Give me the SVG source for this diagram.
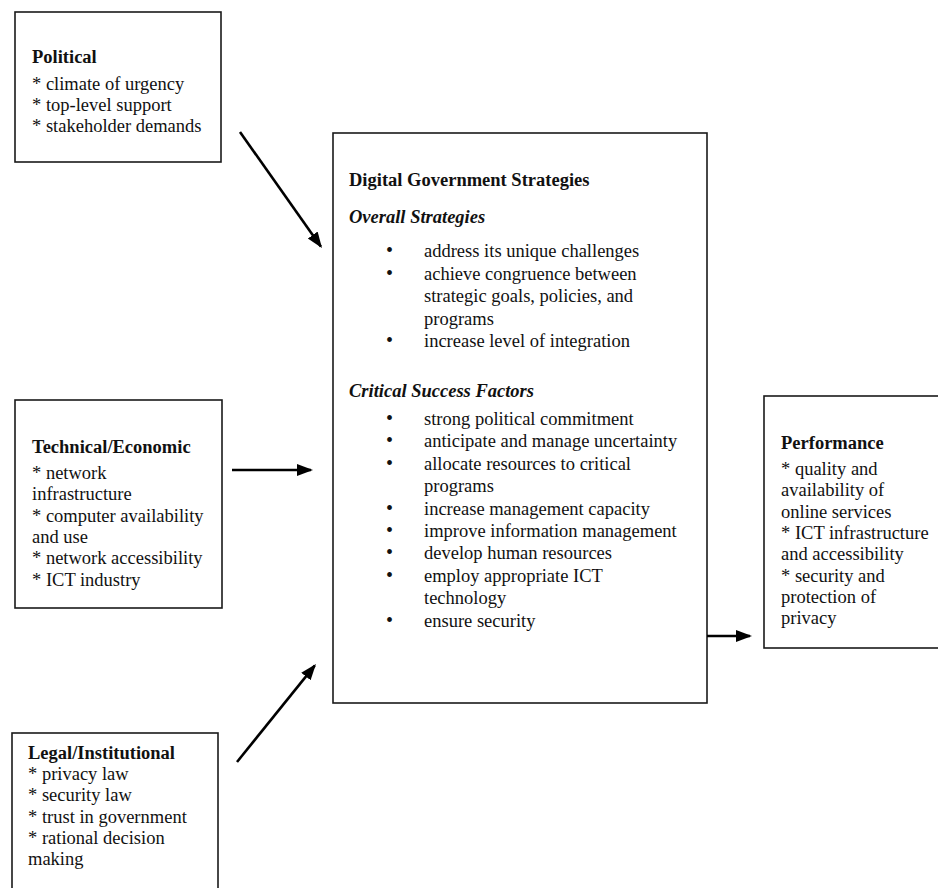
<svg xmlns="http://www.w3.org/2000/svg" width="938" height="888" viewBox="0 0 938 888">
<defs>
<style>
.box{fill:#fff;stroke:#1a1a1a;stroke-width:1.6}
.t{font-family:"Liberation Serif","Times New Roman",serif;font-size:18.5px;fill:#111}
.b{font-weight:bold}
.bi{font-weight:bold;font-style:italic}
.bul{font-size:20px}
.conn{stroke:#000;stroke-width:2.6;fill:none;marker-end:url(#ah)}
</style>
<marker id="ah" markerUnits="userSpaceOnUse" markerWidth="18" markerHeight="14" refX="14" refY="6" orient="auto">
<path d="M0,0 L16,6 L0,12 z" fill="#000"/>
</marker>
</defs>
<rect width="938" height="888" fill="#fff"/>

<g id="political">
<rect class="box" x="15" y="12" width="206" height="150"/>
<text class="t b" x="32" y="63">Political</text>
<text class="t" x="32" y="90">* climate of urgency</text>
<text class="t" x="32" y="111">* top-level support</text>
<text class="t" x="32" y="132">* stakeholder demands</text>
</g>

<g id="technical">
<rect class="box" x="15" y="400" width="207" height="208"/>
<text class="t b" x="32" y="453">Technical/Economic</text>
<text class="t" x="32" y="479">* network</text>
<text class="t" x="32" y="500.3">infrastructure</text>
<text class="t" x="32" y="521.6">* computer availability</text>
<text class="t" x="32" y="542.9">and use</text>
<text class="t" x="32" y="564.2">* network accessibility</text>
<text class="t" x="32" y="585.5">* ICT industry</text>
</g>

<g id="legal">
<rect class="box" x="12" y="733" width="206" height="160"/>
<text class="t b" x="28" y="759">Legal/Institutional</text>
<text class="t" x="28" y="780">* privacy law</text>
<text class="t" x="28" y="801.3">* security law</text>
<text class="t" x="28" y="822.6">* trust in government</text>
<text class="t" x="28" y="843.9">* rational decision</text>
<text class="t" x="28" y="865.2">making</text>
</g>

<g id="strategies">
<rect class="box" x="333" y="133" width="374" height="570"/>
<text class="t b" x="349" y="186">Digital Government Strategies</text>
<text class="t bi" x="349" y="223">Overall Strategies</text>
<g class="t">
<text class="bul" x="386" y="257">•</text><text x="424" y="257">address its unique challenges</text>
<text class="bul" x="386" y="279.5">•</text><text x="424" y="279.5">achieve congruence between</text>
<text x="424" y="302">strategic goals, policies, and</text>
<text x="424" y="324.5">programs</text>
<text class="bul" x="386" y="347">•</text><text x="424" y="347">increase level of integration</text>
</g>
<text class="t bi" x="349" y="397">Critical Success Factors</text>
<g class="t">
<text class="bul" x="386" y="425">•</text><text x="424" y="425">strong political commitment</text>
<text class="bul" x="386" y="447.4">•</text><text x="424" y="447.4">anticipate and manage uncertainty</text>
<text class="bul" x="386" y="469.8">•</text><text x="424" y="469.8">allocate resources to critical</text>
<text x="424" y="492.2">programs</text>
<text class="bul" x="386" y="514.6">•</text><text x="424" y="514.6">increase management capacity</text>
<text class="bul" x="386" y="537">•</text><text x="424" y="537">improve information management</text>
<text class="bul" x="386" y="559.4">•</text><text x="424" y="559.4">develop human resources</text>
<text class="bul" x="386" y="581.8">•</text><text x="424" y="581.8">employ appropriate ICT</text>
<text x="424" y="604.2">technology</text>
<text class="bul" x="386" y="626.6">•</text><text x="424" y="626.6">ensure security</text>
</g>
</g>

<g id="performance">
<rect class="box" x="764" y="396" width="180" height="252"/>
<text class="t b" x="781" y="449">Performance</text>
<text class="t" x="781" y="475">* quality and</text>
<text class="t" x="781" y="496.3">availability of</text>
<text class="t" x="781" y="517.6">online services</text>
<text class="t" x="781" y="538.9">* ICT infrastructure</text>
<text class="t" x="781" y="560.2">and accessibility</text>
<text class="t" x="781" y="581.5">* security and</text>
<text class="t" x="781" y="602.8">protection of</text>
<text class="t" x="781" y="624.1">privacy</text>
</g>

<g id="connectors">
<line class="conn" x1="240" y1="132" x2="320.8" y2="246.4"/>
<line class="conn" x1="232" y1="470" x2="311" y2="470"/>
<line class="conn" x1="237" y1="762" x2="314.7" y2="665.6"/>
<line class="conn" x1="707" y1="636" x2="750" y2="636"/>
</g>
</svg>
